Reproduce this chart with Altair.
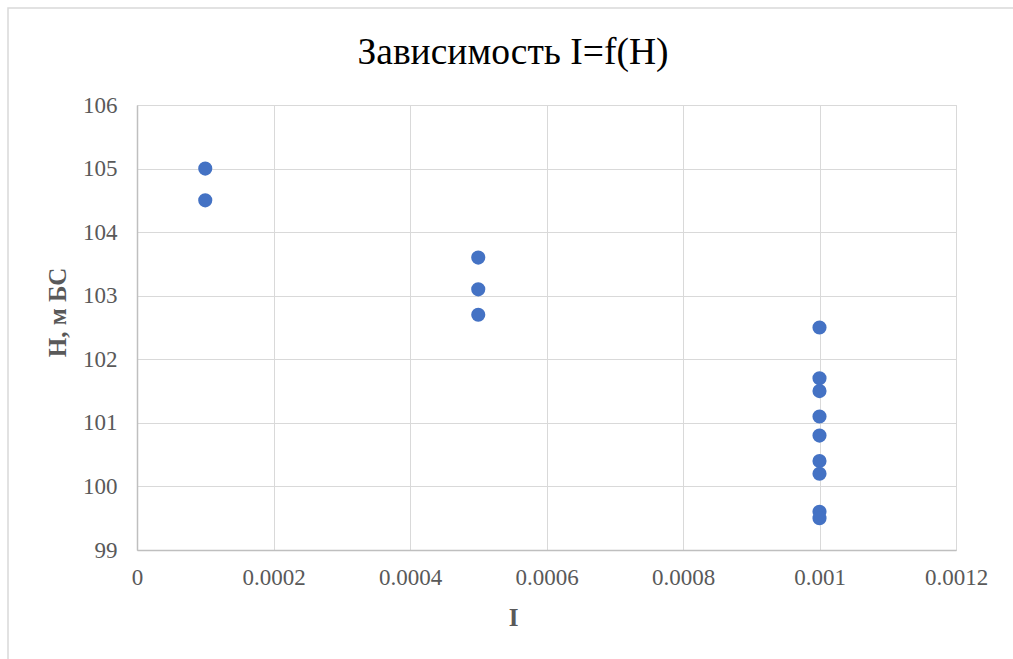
import altair as alt
import pandas as pd

# Measured seepage gradient I and head H (m, Baltic system)
gradient_i = [0.0001, 0.0001,
              0.0005, 0.0005, 0.0005,
              0.001, 0.001, 0.001, 0.001, 0.001, 0.001, 0.001, 0.001, 0.001]
head_h = [105.0, 104.5,
          103.6, 103.1, 102.7,
          102.5, 101.7, 101.5, 101.1, 100.8, 100.4, 100.2, 99.6, 99.5]

x_ticks = [0, 0.0002, 0.0004, 0.0006, 0.0008, 0.001, 0.0012]
y_ticks = [99, 100, 101, 102, 103, 104, 105, 106]
chart_title = "Зависимость I=f(H)"

df = pd.DataFrame({"I": gradient_i, "H": head_h})

W, H = 819, 445
PAD_L, PAD_T, PAD_R, PAD_B = 137, 105, 57, 109
FONT = "Liberation Serif"
GRID = "#d9d9d9"
TXT = "#595959"

one = pd.DataFrame({"t": [chart_title]})

# light frame around the whole chart
frame = alt.Chart(one).mark_rect(
    fill=None, stroke="#d9d9d9", strokeWidth=1.5
).encode(
    x=alt.value(8 - PAD_L), x2=alt.value(1030 - PAD_L),
    y=alt.value(8 - PAD_T), y2=alt.value(680 - PAD_T),
)

# chart heading, centred on the whole chart width
title = alt.Chart(one).mark_text(
    font=FONT, fontSize=37.5, color="#000000", align="center", baseline="alphabetic"
).encode(
    text="t:N", x=alt.value(513 - PAD_L), y=alt.value(64 - PAD_T),
)

points = alt.Chart(df).mark_circle(size=200, opacity=1, color="#4472c4").encode(
    x=alt.X(
        "I:Q",
        scale=alt.Scale(domain=[0, 0.0012], nice=False, zero=False),
        axis=alt.Axis(
            values=x_ticks, title="I", labelFlush=False,
            titleX=376, titleY=67, titleAlign="center", titleBaseline="middle",
            labelExpr="datum.value == 0 ? '0' : format(datum.value, '.4~f')",
        ),
    ),
    y=alt.Y(
        "H:Q",
        scale=alt.Scale(domain=[99, 106], nice=False, zero=False),
        axis=alt.Axis(
            values=y_ticks, title="H, м БС", labelFlush=False,
            titleX=-80, titleY=207, titleAngle=-90,
            titleAlign="center", titleBaseline="middle",
        ),
    ),
)

chart = alt.layer(frame, points, title).properties(
    width=W, height=H,
    background="white",
    autosize=alt.AutoSizeParams(type="none"),
    padding={"left": PAD_L, "top": PAD_T, "right": PAD_R, "bottom": PAD_B},
).configure_view(
    stroke=GRID, strokeWidth=1
).configure_axis(
    grid=True, gridColor=GRID, gridWidth=1,
    domain=True, domainColor="#bfbfbf", domainWidth=1.5,
    ticks=False, labelFont=FONT, labelFontSize=23, labelColor=TXT,
    titleFont=FONT, titleFontSize=25, titleFontWeight="bold",
    titleColor=TXT,
).configure_axisX(
    labelPadding=16,
).configure_axisY(
    labelPadding=20,
)

chart.save("out.html", embed_options={"renderer": "svg", "actions": False})
